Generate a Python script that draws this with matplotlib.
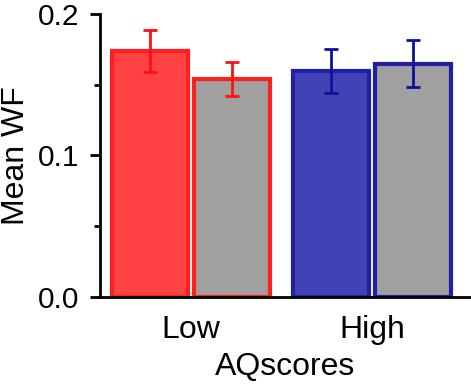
import matplotlib
matplotlib.use("Agg")
import matplotlib.pyplot as plt
import numpy as np
from matplotlib.ticker import MultipleLocator

plt.rcParams['font.family'] = ['Liberation Sans', 'DejaVu Sans']

groups = ["Low", "High"]
cond_a = [0.174, 0.160]      # coloured bars
cond_a_err = [0.0148, 0.0155]
cond_b = [0.154, 0.165]      # grey bars
cond_b_err = [0.012, 0.0168]

fill_colors = ["#FF4242", "#4242B4"]
edge_colors = ["#FF1F1F", "#1F1FA8"]
err_colors = ["#FF1010", "#10109C"]
grey = "#A0A0A0"

fig = plt.figure(figsize=(4.71, 3.86), dpi=100)
ax = fig.add_axes([100/471, 89/386, 371/471, 283/386])

x = np.arange(len(groups))
off = 0.228
w = 0.42
for i in range(len(groups)):
    ax.bar(x[i] - off, cond_a[i], w, color=fill_colors[i], edgecolor=edge_colors[i], linewidth=3, zorder=2)
    ax.bar(x[i] + off, cond_b[i], w, color=grey, edgecolor=edge_colors[i], linewidth=3, zorder=2)
    ax.errorbar([x[i] - off, x[i] + off], [cond_a[i], cond_b[i]], yerr=[cond_a_err[i], cond_b_err[i]],
                fmt='none', ecolor=err_colors[i], elinewidth=2, capsize=5, capthick=2, zorder=3)

ax.set_xlim(-0.503, 1.547)
ax.set_ylim(0, 0.2)
ax.set_xticks(x)
ax.set_xticklabels(groups)
ax.yaxis.set_major_locator(MultipleLocator(0.1))
ax.yaxis.set_minor_locator(MultipleLocator(0.05))
ax.yaxis.set_major_formatter(matplotlib.ticker.FormatStrFormatter('%.1f'))

for s in ['top', 'right']:
    ax.spines[s].set_visible(False)
for s in ['left', 'bottom']:
    ax.spines[s].set_linewidth(2)
    ax.spines[s].set_color('black')

ax.tick_params(axis='y', which='major', length=7, width=2, labelsize=21.5, pad=8)
ax.tick_params(axis='y', which='minor', length=4, width=2)
ax.tick_params(axis='x', which='major', length=0, labelsize=23, pad=13)

ax.set_ylabel("Mean WF", fontsize=23, labelpad=5)
ax.set_xlabel("AQscores", fontsize=23, labelpad=5)

fig.savefig("out.png", dpi=100)
